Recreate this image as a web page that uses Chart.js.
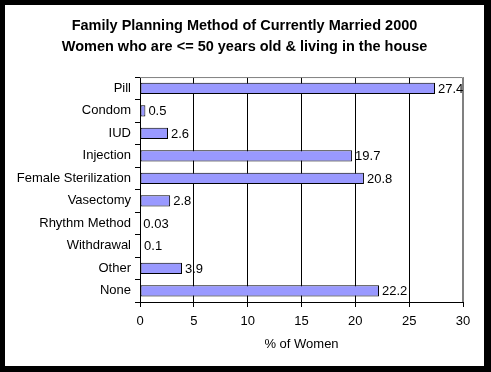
<!DOCTYPE html>
<html>
<head>
<meta charset="utf-8">
<script src="https://cdn.jsdelivr.net/npm/chart.js@4"></script>
<style>
  html, body { margin: 0; padding: 0; background: #000; }
  #frame { position: relative; width: 491px; height: 372px; background: #000; }
  #inner { position: absolute; left: 5px; top: 5px; width: 479px; height: 361px; background: #fff; }
</style>
</head>
<body>
<div id="frame"><div id="inner"><canvas id="barChart" width="479" height="361"></canvas></div></div>
<script>
// Данные
const methods = ['Pill', 'Condom', 'IUD', 'Injection', 'Female Sterilization',
                 'Vasectomy', 'Rhythm Method', 'Withdrawal', 'Other', 'None'];
const percents = [27.4, 0.5, 2.6, 19.7, 20.8, 2.8, 0.03, 0.1, 3.9, 22.2];
const percentLabels = ['27.4', '0.5', '2.6', '19.7', '20.8', '2.8', '0.03', '0.1', '3.9', '22.2'];
const xTicks = [0, 5, 10, 15, 20, 25, 30];

const FONT = "'Liberation Sans', Arial, sans-serif";

// подписи значений справа от столбцов
const valueLabels = {
    id: 'valueLabels',
    afterDatasetsDraw(chart) {
        const ctx = chart.ctx;
        const meta = chart.getDatasetMeta(0);
        ctx.save();
        ctx.font = '13px ' + FONT;
        ctx.fillStyle = '#000';
        ctx.textBaseline = 'middle';
        ctx.textAlign = 'left';
        meta.data.forEach((bar, i) => {
            ctx.fillText(percentLabels[i], bar.x + 3, bar.y + 1);
        });
        ctx.restore();
    }
};

// серая рамка области построения
const plotFrame = {
    id: 'plotFrame',
    beforeDatasetsDraw(chart) {
        const a = chart.chartArea;
        const ctx = chart.ctx;
        ctx.save();
        ctx.strokeStyle = '#808080';
        ctx.lineWidth = 1;
        ctx.beginPath();
        ctx.moveTo(a.left, a.top + 0.5);
        ctx.lineTo(a.right - 0.5, a.top + 0.5);
        ctx.lineTo(a.right - 0.5, a.bottom);
        ctx.stroke();
        ctx.restore();
    }
};

const ctx = document.getElementById('barChart').getContext('2d');
const barChart = new Chart(ctx, {
    type: 'bar',
    data: {
        labels: methods,
        datasets: [{
            data: percents,
            backgroundColor: '#9999FF',
            borderColor: '#000000',
            borderWidth: 1,
            borderSkipped: false,
            barPercentage: 0.5,
            categoryPercentage: 1
        }]
    },
    options: {
        indexAxis: 'y',
        responsive: false,
        animation: false,
        layout: { padding: { left: 0, right: 0, top: 0, bottom: 14 } },
        plugins: {
            legend: { display: false },
            tooltip: { enabled: false },
            title: {
                display: true,
                text: ['Family Planning Method of Currently Married 2000',
                       'Women who are <= 50 years old & living in the house'],
                color: '#000',
                font: { family: FONT, size: 14.5, weight: 'bold', lineHeight: 1.45 },
                padding: { top: 10, bottom: 20 }
            }
        },
        scales: {
            x: {
                min: 0,
                max: 30,
                afterBuildTicks(scale) {
                    scale.ticks = xTicks.map(v => ({ value: v }));
                },
                afterFit(scale) { scale.height = 50; },
                grid: {
                    color: c => (c.tick && c.tick.value === 30) ? '#808080' : '#000000',
                    tickColor: '#000000',
                    tickLength: 5,
                    drawTicks: true
                },
                border: { color: '#000000' },
                ticks: {
                    color: '#000',
                    font: { family: FONT, size: 13 },
                    padding: 7,
                    maxRotation: 0
                },
                title: {
                    display: true,
                    text: '% of Women',
                    color: '#000',
                    font: { family: FONT, size: 13 },
                    padding: { top: 4, bottom: 0 }
                }
            },
            y: {
                afterFit(scale) { scale.width = 135; },
                grid: {
                    offset: true,
                    drawOnChartArea: false,
                    tickLength: 5,
                    color: '#000000'
                },
                border: { color: '#000000' },
                ticks: {
                    color: '#000',
                    font: { family: FONT, size: 13 },
                    padding: 4
                }
            },
            // пустое место справа от области построения
            yRight: {
                type: 'linear',
                position: 'right',
                afterFit(scale) { scale.width = 21; },
                grid: { display: false },
                border: { display: false },
                ticks: { display: false }
            }
        }
    },
    plugins: [plotFrame, valueLabels]
});
</script>
</body>
</html>
